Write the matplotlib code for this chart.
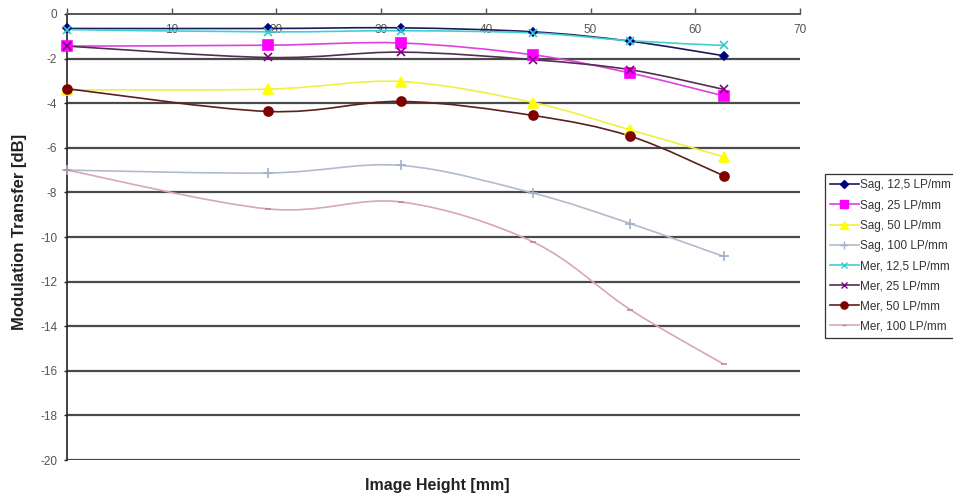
import matplotlib
matplotlib.use("Agg")
import matplotlib.pyplot as plt
import numpy as np
from matplotlib.path import Path
from matplotlib.patches import PathPatch
from matplotlib.lines import Line2D

plt.rcParams['font.family'] = ['Liberation Sans', 'DejaVu Sans']
plt.rcParams['axes.unicode_minus'] = False

image_height = [0.0, 19.2, 31.9, 44.5, 53.8, 62.7]

sag_12_5 = [-0.65, -0.65, -0.62, -0.80, -1.22, -1.87]
sag_25 = [-1.44, -1.40, -1.30, -1.83, -2.65, -3.67]
sag_50 = [-3.40, -3.37, -3.03, -3.97, -5.20, -6.40]
sag_100 = [-7.00, -7.13, -6.79, -8.03, -9.40, -10.87]
mer_12_5 = [-0.70, -0.80, -0.75, -0.85, -1.20, -1.41]
mer_25 = [-1.44, -1.95, -1.71, -2.05, -2.50, -3.38]
mer_50 = [-3.35, -4.37, -3.92, -4.55, -5.48, -7.25]
mer_100 = [-7.00, -8.74, -8.43, -10.22, -13.26, -15.70]

labels = ["Sag, 12,5 LP/mm", "Sag, 25 LP/mm", "Sag, 50 LP/mm", "Sag, 100 LP/mm",
          "Mer, 12,5 LP/mm", "Mer, 25 LP/mm", "Mer, 50 LP/mm", "Mer, 100 LP/mm"]
series = [sag_12_5, sag_25, sag_50, sag_100, mer_12_5, mer_25, mer_50, mer_100]

styles = [
    dict(line='#1a1a5a', mfc='#000080', mec='#000080', marker='D', ms=4.5),
    dict(line='#e040e0', mfc='#ff00ff', mec='#ff00ff', marker='s', ms=6.5),
    dict(line='#f0f040', mfc='#ffff00', mec='#ffff00', marker='^', ms=6.5),
    dict(line='#b0bccc', mfc='#a0b0c8', mec='#a0b0c8', marker='+', ms=7),
    dict(line='#40d0d0', mfc='#33cccc', mec='#33cccc', marker='x', ms=5.5),
    dict(line='#503050', mfc='#800080', mec='#800080', marker='x', ms=6),
    dict(line='#5a2020', mfc='#800000', mec='#800000', marker='o', ms=6.5),
    dict(line='#d8a8b0', mfc='#c08890', mec='#c08890', marker='_', ms=4),
]


def smooth_path(xs, ys):
    pts = np.column_stack([xs, ys]).astype(float)
    n = len(pts)
    verts = [pts[0]]
    codes = [Path.MOVETO]
    for i in range(n - 1):
        p0 = pts[i - 1] if i > 0 else pts[i]
        p1 = pts[i]
        p2 = pts[i + 1]
        p3 = pts[i + 2] if i + 2 < n else pts[i + 1]
        c1 = p1 + (p2 - p0) / 6.0
        c2 = p2 - (p3 - p1) / 6.0
        verts += [c1, c2, p2]
        codes += [Path.CURVE4] * 3
    return Path(verts, codes)


fig = plt.figure(figsize=(9.54, 4.98), dpi=100)
ax = fig.add_axes([67 / 954, 1 - 460 / 498, 733 / 954, 446 / 498])

ax.set_xlim(0, 70)
ax.set_ylim(-20, 0)

for yv in range(-20, 0, 2):
    ax.axhline(yv, color='#4a4a4a', lw=1.6, zorder=1)

handles = []
for vals, st, lab in zip(series, styles, labels):
    patch = PathPatch(smooth_path(image_height, vals), facecolor='none',
                      edgecolor=st['line'], lw=1.2, zorder=3)
    ax.add_patch(patch)
    ax.plot(image_height, vals, linestyle='none', marker=st['marker'],
            markersize=st['ms'], markerfacecolor=st['mfc'],
            markeredgecolor=st['mec'], markeredgewidth=1.2, zorder=4,
            clip_on=False)
    handles.append(Line2D([], [], color=st['line'], lw=1.2, marker=st['marker'],
                          markersize=st['ms'] * 0.8, markerfacecolor=st['mfc'],
                          markeredgecolor=st['mec'], markeredgewidth=1.0))

ax.spines['right'].set_visible(False)
ax.spines['top'].set_visible(False)
ax.spines['bottom'].set_position(('data', 0))
ax.spines['bottom'].set_color('#555555')
ax.spines['bottom'].set_linewidth(1.4)
ax.spines['left'].set_color('#222222')
ax.spines['left'].set_linewidth(1.2)

ax.set_xticks(range(0, 71, 10))
ax.set_yticks(range(-20, 1, 2))
ax.tick_params(axis='x', direction='in', length=4, width=1, colors='#555555',
               labelsize=8.5, pad=7.5, labelcolor='#555555')
ax.tick_params(axis='y', direction='out', length=2.5, width=1, colors='#222222',
               labelsize=8.5, labelcolor='#555555', pad=4.5)

fig.text(437 / 954, 1 - 485 / 498, 'Image Height [mm]', ha='center', va='center',
         fontsize=11.5, fontweight='bold', color='#222222')
fig.text(20 / 954, 1 - 232 / 498, 'Modulation Transfer [dB]', ha='center',
         va='center', rotation=90, fontsize=12, fontweight='bold', color='#222222')

leg = ax.legend(handles, labels, loc='upper left', bbox_to_anchor=(1.034, 0.641),
                fontsize=8.5, frameon=True, fancybox=False, framealpha=1,
                edgecolor='#333333', handlelength=2.4, handletextpad=0.15,
                labelspacing=0.69, borderpad=0.45, borderaxespad=0)
leg.get_frame().set_linewidth(0.9)
for t in leg.get_texts():
    t.set_color('#333333')

fig.savefig('out.png', dpi=100)
